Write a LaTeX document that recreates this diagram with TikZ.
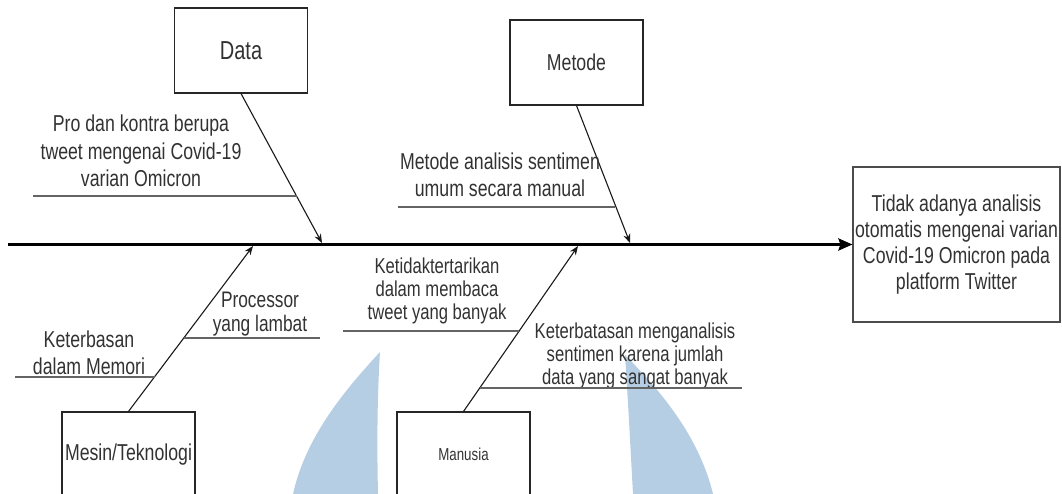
\documentclass[tikz,border=0pt]{standalone}
\usepackage{fontspec}
\setmainfont{Liberation Sans}[FakeStretch=0.77]
\usetikzlibrary{arrows.meta}
\definecolor{txt}{RGB}{50,50,50}
\definecolor{wm}{RGB}{182,206,228}
\definecolor{ul}{RGB}{100,100,100}
\begin{document}
\begin{tikzpicture}[x=1pt,y=-1pt,
  catbox/.style={draw=black!85, line width=1.1pt, minimum width=133pt, minimum height=85pt, inner sep=0pt, text=txt},
  lbl/.style={align=center, text=txt, inner sep=0pt},
  bone/.style={line width=1.1pt, draw=black!90, -{Stealth[length=9pt,width=7pt]}},
  uline/.style={line width=1.6pt, draw=ul},
  spine/.style={line width=2.8pt, draw=black, -{Stealth[length=14pt,width=12pt,inset=2pt]}}]
\useasboundingbox (0,0) rectangle (1062,494);
\clip (0,0) rectangle (1062,494);
% watermark shapes
\fill[wm] (380,352) .. controls (377,400) and (377,450) .. (378,494) -- (293,494) .. controls (305,440) and (340,395) .. (380,352) -- cycle;
\fill[wm] (625,355) .. controls (665,395) and (700,440) .. (713,494) -- (633,494) .. controls (630,440) and (628,400) .. (625,355) -- cycle;
% category boxes
\node[catbox, font=\fontsize{26}{30}\selectfont] (data) at (241,50.5) {Data};
\node[catbox, font=\fontsize{23}{28}\selectfont] (metode) at (576.5,62.5) {Metode};
\node[catbox, font=\fontsize{23}{28}\selectfont] (mesin) at (128.5,454.5) {Mesin/Teknologi};
\node[catbox, font=\fontsize{17.3}{20}\selectfont] (manusia) at (463.5,454.5) {Manusia};
% effect
\node[draw=black!70, line width=1.1pt, minimum width=207pt, minimum height=155pt, inner sep=0pt,
  align=center, text=txt, font=\fontsize{23}{26}\selectfont] (effect) at (956.5,244.5)
  {Tidak adanya analisis\\otomatis mengenai varian\\Covid-19 Omicron pada\\platform Twitter};
% spine
\coordinate (s0) at (8,244.5);
\draw[spine] (s0) -- (s0 -| effect.west);
% spine points
\coordinate (pd) at (322,243);
\coordinate (pm) at (630,243);
\coordinate (pt) at (253,246);
\coordinate (pu) at (578,246);
% bones
\draw[bone] (data.south) -- (pd);
\draw[bone] (metode.south) -- (pm);
\draw[bone] (mesin.north) -- (pt);
\draw[bone] (manusia.north) -- (pu);
% cause labels
\node[lbl, font=\fontsize{23}{27.5}\selectfont] (pro) at (141,151) {Pro dan kontra berupa\\tweet mengenai Covid-19\\varian Omicron};
\node[lbl, font=\fontsize{23}{26.7}\selectfont] (metlbl) at (500,175) {Metode analisis sentimen\\umum secara manual};
\node[lbl, font=\fontsize{23}{27}\selectfont] (ket1) at (89,353) {Keterbasan\\dalam Memori};
\node[lbl, font=\fontsize{22.5}{23.5}\selectfont] (proc) at (260,314) {Processor\\yang lambat};
\node[lbl, font=\fontsize{21.6}{23.3}\selectfont] (ketid) at (437,291) {Ketidaktertarikan\\dalam membaca\\tweet yang banyak};
\node[lbl, font=\fontsize{21.6}{23.3}\selectfont] (keterb) at (635,356) {Keterbatasan menganalisis\\sentimen karena jumlah\\data yang sangat banyak};
% underlines
\coordinate (u1a) at (33,196);  \coordinate (u1b) at (297,196);
\coordinate (u2a) at (398,207); \coordinate (u2b) at (615,207);
\coordinate (u3a) at (15,377);  \coordinate (u3b) at (155,377);
\coordinate (u4a) at (184,338); \coordinate (u4b) at (320,338);
\coordinate (u5a) at (343,331); \coordinate (u5b) at (519,331);
\coordinate (u6a) at (480,388); \coordinate (u6b) at (742,388);
\draw[uline] (u1a) -- (u1b);
\draw[uline] (u2a) -- (u2b);
\draw[uline] (u3a) -- (u3b);
\draw[uline] (u4a) -- (u4b);
\draw[uline] (u5a) -- (u5b);
\draw[uline] (u6a) -- (u6b);
\end{tikzpicture}
\end{document}
